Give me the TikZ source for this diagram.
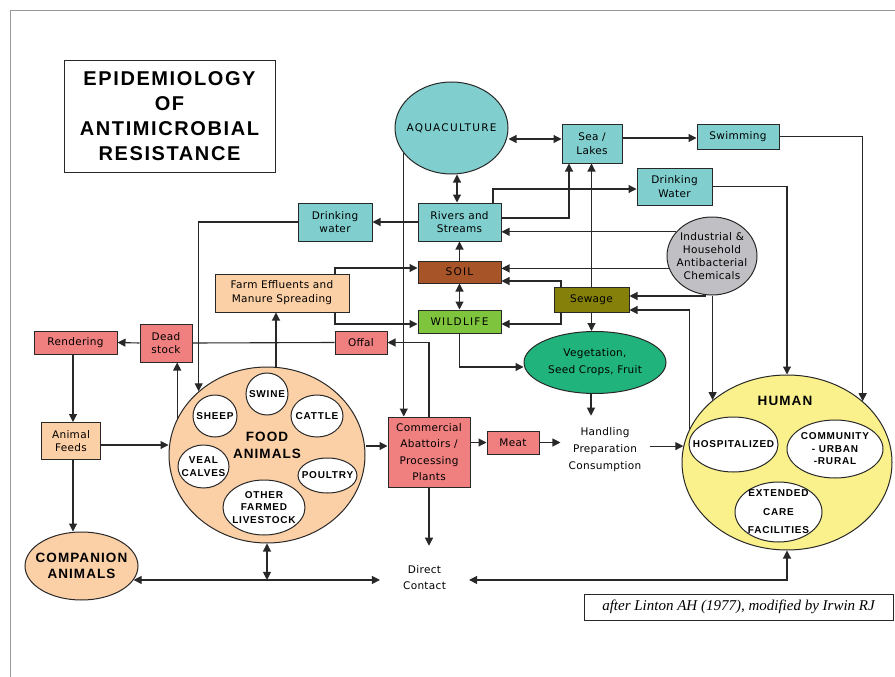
\documentclass[tikz,border=0pt]{standalone}
\usepackage{fontspec}
\setmainfont{DejaVu Sans}[LetterSpace=3]
\newfontfamily\titlefont{Liberation Sans}[LetterSpace=8]
\newfontfamily\animfont{Liberation Sans}[LetterSpace=8]
\newfontfamily\widefont{DejaVu Sans}[LetterSpace=12]
\newfontfamily\creditfont{Liberation Serif}
\usetikzlibrary{arrows.meta,shapes.geometric}

\definecolor{water}{RGB}{128,206,206}
\definecolor{soilbrown}{RGB}{166,84,40}
\definecolor{wildgreen}{RGB}{126,196,60}
\definecolor{sewolive}{RGB}{133,128,10}
\definecolor{veggreen}{RGB}{32,180,124}
\definecolor{chemgray}{RGB}{192,192,196}
\definecolor{peach}{RGB}{252,208,166}
\definecolor{salmon}{RGB}{240,128,128}
\definecolor{humanyellow}{RGB}{250,240,140}
\definecolor{linegray}{RGB}{40,40,40}

\tikzset{
  box/.style={draw=linegray, line width=1pt, align=center, inner sep=1pt,
    font=\fontsize{10.5}{13.5}\selectfont},
  oval/.style={ellipse, draw=linegray, line width=1pt, align=center, inner sep=0pt},
  animal/.style={oval, fill=white, inner xsep=-12pt, inner ysep=-3pt,
    font=\animfont\bfseries\fontsize{10}{12.5}\selectfont},
  plain/.style={align=center, font=\fontsize{10.5}{16}\selectfont},
  link/.style={draw=linegray, line width=1.1pt},
  arr/.style={link, -{Triangle[length=8pt,width=8pt]}},
  darr/.style={link, {Triangle[length=8pt,width=8pt]}-{Triangle[length=8pt,width=8pt]}},
}

\begin{document}
\begin{tikzpicture}[x=1pt,y=-1pt]
\useasboundingbox (0,0) rectangle (895,677);

% frame
\draw[gray!80, line width=1pt] (10,677) -- (10,11) -- (895,11);

% title
\node[draw=linegray, line width=1pt, minimum width=211, minimum height=111, align=center,
  font=\titlefont\bfseries\fontsize{20}{25}\selectfont] (title) at (169.5,116.5)
  {EPIDEMIOLOGY\\OF\\ANTIMICROBIAL\\RESISTANCE};

% water
\node[oval, fill=water, minimum width=113, minimum height=92, inner xsep=-10pt,
  font=\widefont\fontsize{10.5}{13}\selectfont] (aqua) at (451.5,128) {AQUACULTURE};
\node[box, fill=water, minimum width=60, minimum height=39] (sea) at (592,143.5) {Sea /\\Lakes};
\node[box, fill=water, minimum width=82, minimum height=25] (swim) at (738,136.5) {Swimming};
\node[box, fill=water, minimum width=75, minimum height=37] (dwr) at (674.5,186.5) {Drinking\\Water};
\node[box, fill=water, minimum width=83, minimum height=38] (riv) at (459.5,222) {Rivers and\\Streams};
\node[box, fill=water, minimum width=74, minimum height=38] (dwl) at (335,222) {Drinking\\water};
\node[oval, fill=chemgray, minimum width=90, minimum height=78, inner xsep=-10pt,
  font=\fontsize{10.5}{13}\selectfont] (ind) at (712,256)
  {Industrial \&\\Household\\Antibacterial\\Chemicals};

% soil, wildlife, sewage
\node[box, fill=soilbrown, minimum width=83, minimum height=22,
  font=\widefont\fontsize{10.5}{13}\selectfont] (soil) at (459.5,272) {SOIL};
\node[box, fill=wildgreen, minimum width=83, minimum height=23,
  font=\widefont\fontsize{10.5}{13}\selectfont] (wild) at (459.5,321.5) {WILDLIFE};
\node[box, fill=sewolive, minimum width=75, minimum height=25] (sew) at (591.5,299.5) {Sewage};
\node[oval, fill=veggreen, minimum width=142, minimum height=62,
  font=\fontsize{10.5}{17}\selectfont] (veg) at (595,362.5) {Vegetation,\\Seed Crops, Fruit};

% farm side
\node[box, fill=peach, minimum width=134, minimum height=38,
  font=\fontsize{10.5}{14}\selectfont] (farm) at (282,293) {Farm Effluents and\\Manure Spreading};
\node[box, fill=salmon, minimum width=52, minimum height=23] (offal) at (361,342.5) {Offal};
\node[box, fill=salmon, minimum width=52, minimum height=38] (dead) at (166,343) {Dead\\stock};
\node[box, fill=salmon, minimum width=83, minimum height=23] (rend) at (75.5,342.5) {Rendering};
\node[box, fill=peach, minimum width=59, minimum height=37] (feeds) at (71,441) {Animal\\Feeds};

% food animals
\node[oval, fill=peach, minimum width=196, minimum height=176] (food) at (267,455) {};
\node[align=center, font=\animfont\bfseries\fontsize{13.5}{17}\selectfont] (foodlbl) at (267,445.5) {FOOD\\ANIMALS};
\node[animal, minimum width=42, minimum height=42] (swine) at (267,394) {SWINE};
\node[animal, minimum width=44, minimum height=42] (sheep) at (215,416) {SHEEP};
\node[animal, minimum width=52, minimum height=42] (cattle) at (317,416) {CATTLE};
\node[animal, minimum width=51, minimum height=43] (veal) at (203.5,466.5) {VEAL\\CALVES};
\node[animal, minimum width=59, minimum height=35] (poultry) at (327.5,475.5) {POULTRY};
\node[animal, minimum width=82, minimum height=55] (other) at (264,507.5) {OTHER\\FARMED\\LIVESTOCK};

% companion animals
\node[oval, fill=peach, minimum width=113, minimum height=68, inner xsep=-8pt,
  font=\animfont\bfseries\fontsize{13.5}{16}\selectfont] (comp) at (81.5,566) {COMPANION\\ANIMALS};

% abattoirs and food chain
\node[box, fill=salmon, minimum width=82, minimum height=70,
  font=\fontsize{10.5}{16.5}\selectfont] (abat) at (429,452) {Commercial\\Abattoirs /\\Processing\\Plants};
\node[box, fill=salmon, minimum width=52, minimum height=23] (meat) at (513,442.5) {Meat};
\node[plain, inner xsep=8pt, inner ysep=12pt, font=\fontsize{10.5}{17}\selectfont] (hand) at (605,450)
  {Handling\\Preparation\\Consumption};
\node[plain, inner xsep=23pt, inner ysep=20pt] (direct) at (424.5,578) {Direct\\Contact};

% human
\node[oval, fill=humanyellow, minimum width=210, minimum height=175] (human) at (787,462.5) {};
\node[font=\animfont\bfseries\fontsize{13.5}{17}\selectfont] (humanlbl) at (785,401) {HUMAN};
\node[animal, minimum width=89, minimum height=55] (hosp) at (733.5,444.5) {HOSPITALIZED};
\node[animal, minimum width=96, minimum height=58] (comm) at (835,449) {COMMUNITY\\- URBAN\\-RURAL};
\node[animal, minimum width=87, minimum height=60] (care) at (778.5,512) {EXTENDED\\[6pt]CARE\\[6pt]FACILITIES};

% credit
\node[draw=linegray, line width=1pt, minimum width=309, minimum height=26,
  font=\creditfont\itshape\fontsize{15}{18}\selectfont] (credit) at (738.5,607)
  {after Linton AH (1977), modified by Irwin RJ};

% water links
\draw[darr] (aqua.east |- 0,139) -- (sea.west |- 0,139);
\draw[darr] (aqua.south -| 457,0) -- (riv.north -| 457,0);
\draw[arr] (aqua.208) -- (aqua.208 |- abat.north);
\draw[arr] (sea.east |- 0,138) -- (swim.west |- 0,138);
\draw[arr] (swim.east) -| (human.39);
\draw[arr] (dwr.east) -| (human.north);
\draw[arr] (riv.east |- 0,218) -| (sea.south -| 569,0);
\draw[arr] (riv.north -| 493,0) |- (dwr.west |- 0,189);
\draw[arr] (riv.west) -- (dwl.east);
\draw[arr] (dwl.west) -| (food.137);

% chemicals
\draw[arr] (ind.146) -- (riv.east |- ind.146);
\draw[arr] (ind.196) -- (soil.east |- ind.196);
\draw[arr] (ind.260) |- (sew.east |- 0,296);
\draw[arr] (ind.south -| human.140) -- (human.140);

% sewage
\draw[arr] (sew.north) -- (sew.north |- sea.south);
\draw[arr] (sew.south) -- (sew.south |- veg.north);
\draw[arr] (sew.north -| 561,0) |- (soil.east |- 0,281);
\draw[arr] (sew.south -| 561,0) |- (wild.east |- 0,324);
\draw[arr] (human.161) |- (sew.east |- 0,310);

% soil and wildlife
\draw[arr] (soil.north) -- (riv.south);
\draw[darr] (soil.south) -- (wild.north);
\draw[arr] (farm.north -| 335,0) |- (soil.west |- 0,268);
\draw[arr] (farm.south -| 335,0) |- (wild.west |- 0,324);
\draw[arr] (wild.south) |- (veg.west |- 0,367);

% animals
\draw[arr] (food.north -| 276,0) -- (farm.south -| 276,0);
\draw[arr] (food.158) -- (food.158 |- dead.south);
\draw[arr] (dead.west) -- (rend.east);
\draw[link] (offal.west) -- (dead.east);
\draw[arr] (rend.south -| 73,0) -- (feeds.north -| 73,0);
\draw[arr] (feeds.east |- 0,445) -- (food.west |- 0,445);
\draw[arr] (feeds.south -| 73,0) -- (comp.north -| 73,0);
\draw[arr] (food.east |- 0,446) -- (abat.west |- 0,446);
\draw[arr] (abat.north) |- (offal.east);
\draw[arr] (abat.east |- meat.west) -- (meat.west);
\draw[arr] (meat.east) -- (hand.west |- meat.east);
\draw[arr] (veg.south -| 591,0) -- (hand.north -| 591,0);
\draw[arr] (hand.east |- human.171) -- (human.171);

% direct contact
\draw[darr] (comp.-15) -- (direct.west |- comp.-15);
\draw[darr] (food.south) -- (food.south |- comp.-15);
\draw[arr] (abat.south) -- (abat.south |- direct.north);
\draw[darr] (human.south) |- (direct.east |- comp.-15);

\end{tikzpicture}
\end{document}
